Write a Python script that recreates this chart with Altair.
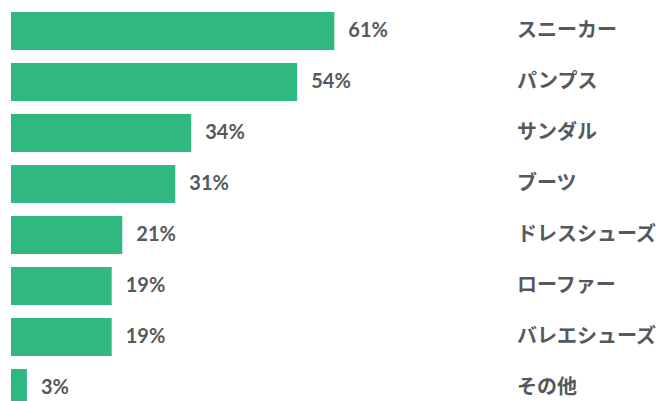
import altair as alt
import pandas as pd

categories = ["スニーカー", "パンプス", "サンダル", "ブーツ", "ドレスシューズ", "ローファー", "バレエシューズ", "その他"]
values = [61, 54, 34, 31, 21, 19, 19, 3]

df = pd.DataFrame({"cat": categories, "val": values, "label": [f"{v}%" for v in values]})

y = alt.Y("cat:N", sort=categories, axis=None,
          scale=alt.Scale(paddingInner=0.255, paddingOuter=0.078))
x = alt.X("val:Q", axis=None, scale=alt.Scale(domain=[0, 100], nice=False, zero=True))

bars = alt.Chart(df).mark_bar(color="#2fb87f").encode(x=x, y=y)
pct = alt.Chart(df).mark_text(align="left", baseline="middle", dx=14, fontSize=20,
                              fontWeight="bold", font="Lato", color="#55595d").encode(
    x=x, y=y, text="label:N")
names = alt.Chart(df).mark_text(align="left", baseline="middle", fontSize=20,
                                fontWeight="bold", font="Noto Sans CJK JP", color="#55595d").encode(
    x=alt.value(506), y=y, text="cat:N")

chart = alt.layer(bars, pct, names).properties(
    width=530, height=403,
    padding={"left": 3, "top": 0, "right": 119, "bottom": 0},
    autosize=alt.AutoSizeParams(type="none"),
).configure_view(stroke=None)

chart.save("out.html", embed_options={"renderer": "svg", "actions": False})
